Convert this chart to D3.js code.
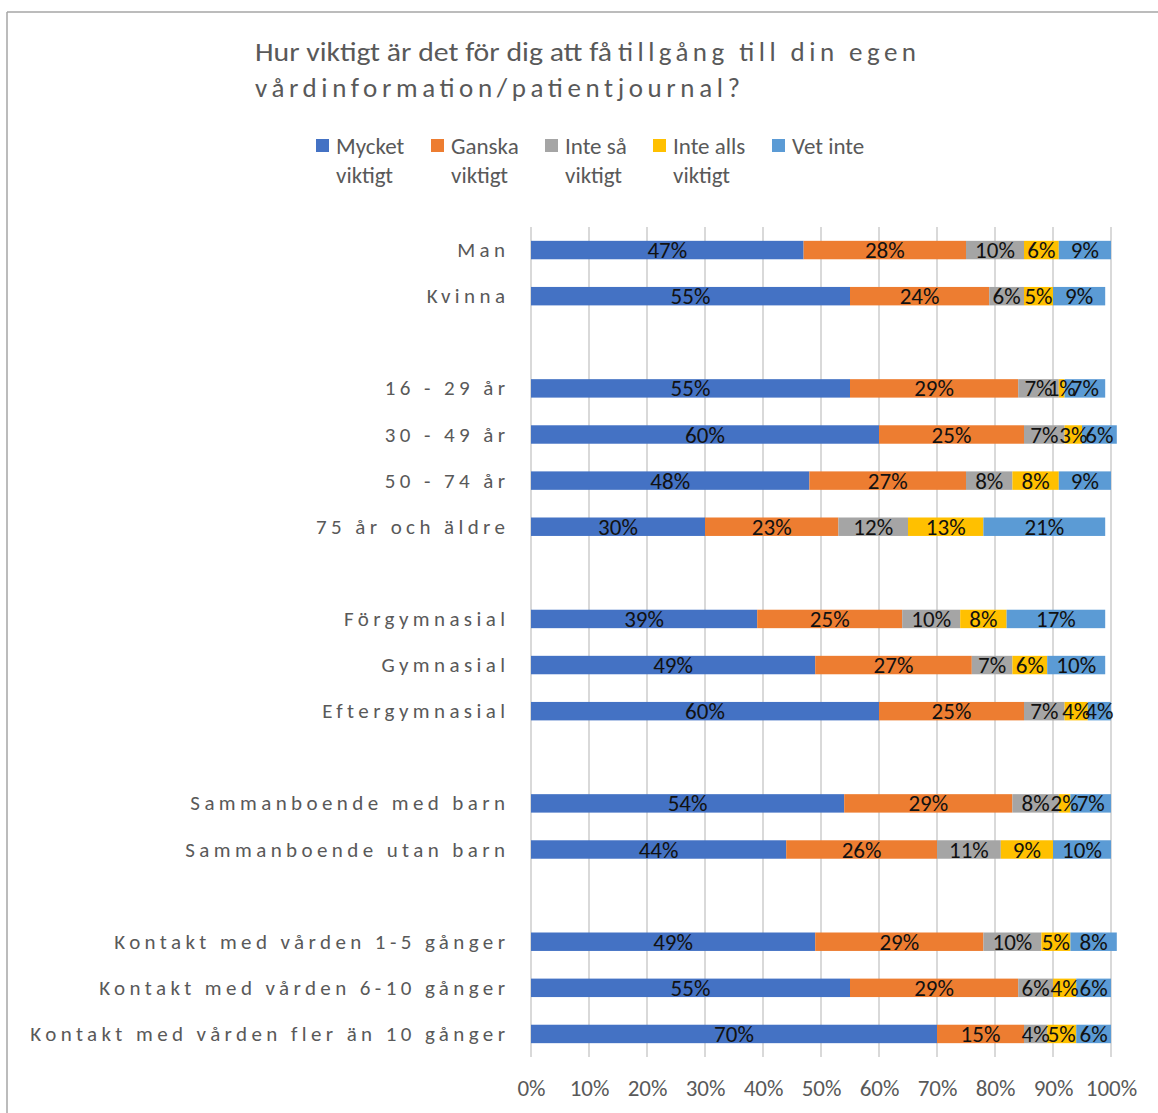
<!DOCTYPE html>
<html>
<head>
<meta charset="utf-8">
<script src="https://cdn.jsdelivr.net/npm/d3@7"></script>
<style>
  html, body { margin: 0; padding: 0; background: #fff; }
  svg { display: block; font-family: Carlito, Calibri, Lato, "Open Sans", sans-serif; }
</style>
</head>
<body>
<svg id="chart" width="1158" height="1113"></svg>
<script>
// Row labels; null marks an empty spacer row between groups
const categories = [
  "Man", "Kvinna", null,
  "16 - 29 år", "30 - 49 år", "50 - 74 år", "75 år och äldre", null,
  "Förgymnasial", "Gymnasial", "Eftergymnasial", null,
  "Sammanboende med barn", "Sammanboende utan barn", null,
  "Kontakt med vården 1-5 gånger", "Kontakt med vården 6-10 gånger", "Kontakt med vården fler än 10 gånger"
];

const seriesNames = [
  ["Mycket", "viktigt"], ["Ganska", "viktigt"], ["Inte så", "viktigt"], ["Inte alls", "viktigt"], ["Vet inte"]
];

// Percent per row (null for spacer rows)
const mycketViktigt = [47, 55, null, 55, 60, 48, 30, null, 39, 49, 60, null, 54, 44, null, 49, 55, 70];
const ganskaViktigt = [28, 24, null, 29, 25, 27, 23, null, 25, 27, 25, null, 29, 26, null, 29, 29, 15];
const inteSaViktigt = [10, 6, null, 7, 7, 8, 12, null, 10, 7, 7, null, 8, 11, null, 10, 6, 4];
const inteAllsViktigt = [6, 5, null, 1, 3, 8, 13, null, 8, 6, 4, null, 2, 9, null, 5, 4, 5];
const vetInte = [9, 9, null, 7, 6, 9, 21, null, 17, 10, 4, null, 7, 10, null, 8, 6, 6];

const xTicks = [0, 10, 20, 30, 40, 50, 60, 70, 80, 90, 100];

const seriesValues = [mycketViktigt, ganskaViktigt, inteSaViktigt, inteAllsViktigt, vetInte];
const colors = ["#4472C4", "#ED7D31", "#A5A5A5", "#FFC000", "#5B9BD5"];

const svg = d3.select("#chart");
const textGray = "#595959";

// Outer frame (left and top edges)
svg.append("line").attr("x1", 7).attr("x2", 7).attr("y1", 12).attr("y2", 1113)
  .attr("stroke", "#a6a6a6").attr("stroke-width", 1.5);
svg.append("line").attr("x1", 7).attr("x2", 1158).attr("y1", 12).attr("y2", 12)
  .attr("stroke", "#a6a6a6").attr("stroke-width", 1.5);

// Title
const title = svg.append("text").attr("fill", textGray).attr("font-size", 27);
title.append("tspan").attr("x", 255).attr("y", 61)
  .attr("textLength", 357).attr("lengthAdjust", "spacingAndGlyphs")
  .text("Hur viktigt är det för dig att få");
title.append("tspan").attr("x", 618).attr("y", 61)
  .attr("textLength", 298).attr("lengthAdjust", "spacing")
  .text("tillgång till din egen");
title.append("tspan").attr("x", 255).attr("y", 97)
  .attr("textLength", 485).attr("lengthAdjust", "spacing")
  .text("vårdinformation/patientjournal?");

// Legend
const legendX = [316, 431, 545, 653, 772];
const legend = svg.append("g");
seriesNames.forEach((lines, i) => {
  const g = legend.append("g").attr("transform", `translate(${legendX[i]},0)`);
  g.append("rect").attr("x", 0).attr("y", 139).attr("width", 13).attr("height", 13).attr("fill", colors[i]);
  lines.forEach((t, j) => {
    g.append("text").attr("x", 20).attr("y", 154 + j * 29)
      .attr("fill", textGray).attr("font-size", 23).text(t);
  });
});

// Scales
const margin = { left: 531, right: 1111, top: 227, bottom: 1057 };
const x = d3.scaleLinear().domain([0, 100]).range([margin.left, margin.right]);
const y = d3.scaleBand().domain(d3.range(categories.length))
  .range([margin.top, margin.bottom]).paddingInner(0.6).paddingOuter(0.3);

// Vertical gridlines
svg.append("g").selectAll("line").data(xTicks).join("line")
  .attr("x1", d => x(d)).attr("x2", d => x(d))
  .attr("y1", margin.top).attr("y2", margin.bottom)
  .attr("stroke", "#d9d9d9").attr("stroke-width", 2);

// X axis tick labels
const xAxis = d3.axisBottom(x).tickValues(xTicks).tickFormat(d => d + "%").tickSize(0).tickPadding(0);
const xg = svg.append("g").attr("transform", `translate(0,${1080})`).call(xAxis);
xg.select(".domain").remove();
xg.selectAll("text").attr("fill", textGray).attr("font-size", 23)
  .attr("font-family", "Carlito, Calibri, Lato, 'Open Sans', sans-serif");

// Category labels (letter-spaced, right-aligned)
const ls = 4.4;
svg.append("g").selectAll("text").data(categories.map((c, i) => ({ c, i })).filter(d => d.c))
  .join("text")
  .attr("x", 505 + ls)
  .attr("y", d => y(d.i) + y.bandwidth() / 2 + 7)
  .attr("text-anchor", "end")
  .attr("fill", textGray).attr("font-size", 21).attr("letter-spacing", ls)
  .text(d => d.c);

// Stacked segments
const rows = categories.map((c, i) => {
  let acc = 0;
  const segs = [];
  if (c) {
    seriesValues.forEach((arr, s) => {
      const v = arr[i];
      segs.push({ i, s, v, x0: acc, x1: acc + v });
      acc += v;
    });
  }
  return segs;
}).flat();

svg.append("g").selectAll("rect").data(rows).join("rect")
  .attr("x", d => x(d.x0))
  .attr("width", d => x(d.x1) - x(d.x0))
  .attr("y", d => y(d.i))
  .attr("height", y.bandwidth())
  .attr("fill", d => colors[d.s]);

// Value labels centred in each segment
svg.append("g").selectAll("text").data(rows).join("text")
  .attr("x", d => (x(d.x0) + x(d.x1)) / 2)
  .attr("y", d => y(d.i) + y.bandwidth() / 2 + 8)
  .attr("text-anchor", "middle")
  .attr("fill", "#111").attr("font-size", 23)
  .text(d => d.v + "%");
</script>
</body>
</html>
